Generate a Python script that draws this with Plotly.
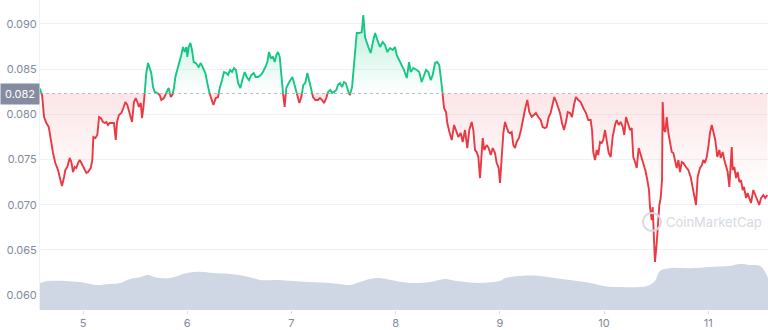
import plotly.graph_objects as go

# ---------------- data ----------------
day = [4.584, 4.607, 4.626, 4.648, 4.671, 4.690, 4.712, 4.734, 4.760, 4.776, 4.798, 4.818, 4.830, 4.849, 4.872,
       4.888, 4.904, 4.920, 4.936, 4.952, 4.968, 4.984, 5.010, 5.032, 5.048, 5.074, 5.089, 5.099, 5.118, 5.137,
       5.154, 5.170, 5.192, 5.208, 5.224, 5.240, 5.256, 5.272, 5.297, 5.314, 5.326, 5.345, 5.368, 5.387, 5.406,
       5.425, 5.448, 5.470, 5.489, 5.506, 5.521, 5.537, 5.554, 5.566, 5.579, 5.592, 5.607, 5.624,
       5.655, 5.672, 5.688, 5.713, 5.736, 5.751, 5.777, 5.799, 5.822, 5.842, 5.857, 5.873, 5.886, 5.905, 5.928,
       5.943, 5.960, 5.976, 5.991, 6.001, 6.014, 6.030, 6.046, 6.062, 6.082, 6.097, 6.110, 6.130, 6.152, 6.174,
       6.193, 6.209, 6.232, 6.251, 6.274, 6.296, 6.312, 6.334, 6.353, 6.375, 6.392, 6.411, 6.430, 6.449, 6.468,
       6.488, 6.510, 6.529, 6.552, 6.571, 6.593, 6.615, 6.638, 6.657, 6.679,
       6.705, 6.727, 6.750, 6.769, 6.785, 6.801, 6.823, 6.840, 6.855, 6.871, 6.888, 6.903, 6.919, 6.935, 6.951,
       6.974, 6.993, 7.009, 7.025, 7.041, 7.057, 7.076, 7.095, 7.114, 7.133, 7.153, 7.169, 7.185, 7.207, 7.229,
       7.255, 7.274, 7.294, 7.313, 7.335, 7.351, 7.373, 7.390, 7.409, 7.431, 7.447, 7.466, 7.486, 7.505, 7.521,
       7.543, 7.562, 7.582, 7.607, 7.627, 7.652, 7.675, 7.690, 7.706, 7.738, 7.761, 7.780, 7.803, 7.825, 7.850,
       7.876, 7.898, 7.920, 7.946, 7.972, 7.994, 8.011, 8.035, 8.059, 8.081, 8.107, 8.129, 8.145, 8.170, 8.203,
       8.227, 8.250, 8.272, 8.292, 8.314, 8.337, 8.356, 8.378, 8.400, 8.419, 8.442,
       8.465, 8.484, 8.496, 8.516, 8.539, 8.561, 8.580, 8.602, 8.625, 8.644, 8.666, 8.688, 8.707, 8.730, 8.746,
       8.762, 8.778, 8.794, 8.810, 8.826, 8.836, 8.851, 8.874, 8.893, 8.913, 8.932, 8.954, 8.970, 8.989, 9.002,
       9.021, 9.034, 9.050, 9.066, 9.082, 9.098, 9.114, 9.130, 9.146, 9.162, 9.184, 9.203, 9.226, 9.245, 9.264,
       9.283, 9.306, 9.328, 9.347, 9.369, 9.392, 9.412, 9.434, 9.450, 9.469, 9.488, 9.507, 9.523, 9.546, 9.561,
       9.578, 9.597, 9.616, 9.635, 9.652, 9.674, 9.693, 9.712, 9.731, 9.753, 9.776, 9.801, 9.827, 9.849,
       9.872, 9.885, 9.897, 9.914, 9.930, 9.945, 9.962, 9.978, 9.993, 10.010, 10.026, 10.045, 10.064, 10.083,
       10.106, 10.122, 10.141, 10.160, 10.180, 10.195, 10.211, 10.228, 10.250, 10.266, 10.281, 10.298, 10.314,
       10.333, 10.345, 10.365, 10.377, 10.396, 10.416, 10.432, 10.441, 10.458, 10.467, 10.480, 10.489, 10.506,
       10.515, 10.531, 10.544, 10.557, 10.563, 10.576, 10.589, 10.602, 10.618, 10.634, 10.650, 10.666, 10.682,
       10.698, 10.714, 10.730, 10.746, 10.761, 10.787, 10.809, 10.832, 10.851, 10.873, 10.883, 10.899, 10.921,
       10.940, 10.953, 10.969, 10.986, 11.001, 11.017, 11.034, 11.049, 11.068, 11.087, 11.107, 11.120, 11.139,
       11.155, 11.171, 11.187, 11.203, 11.216, 11.226, 11.235, 11.251, 11.267, 11.283, 11.299, 11.315, 11.331,
       11.344, 11.363, 11.379, 11.394, 11.411, 11.433, 11.452, 11.471, 11.490, 11.507, 11.529, 11.548, 11.567]

price = [0.08288, 0.08213, 0.07970, 0.07904, 0.07860, 0.07716, 0.07572, 0.07461, 0.07384, 0.07307, 0.07207,
         0.07307, 0.07384, 0.07417, 0.07517, 0.07472, 0.07362, 0.07417, 0.07406, 0.07461, 0.07494, 0.07461,
         0.07406, 0.07351, 0.07362, 0.07406, 0.07494, 0.07749, 0.07738, 0.07771, 0.07970, 0.07959, 0.07915,
         0.07904, 0.07915, 0.07882, 0.07904, 0.07904, 0.07904, 0.07716, 0.07915, 0.07992, 0.08014, 0.08070,
         0.08136, 0.08103, 0.07992, 0.07915, 0.08136, 0.08180, 0.08136, 0.08081, 0.08125, 0.07959, 0.08070,
         0.08236, 0.08457, 0.08567,
         0.08457, 0.08302, 0.08247, 0.08236, 0.08213, 0.08158, 0.08180, 0.08236, 0.08291, 0.08191, 0.08213,
         0.08291, 0.08413, 0.08490, 0.08567, 0.08655, 0.08744, 0.08689, 0.08744, 0.08634, 0.08744, 0.08789,
         0.08711, 0.08578, 0.08567, 0.08545, 0.08523, 0.08567, 0.08512, 0.08457, 0.08346, 0.08247, 0.08180,
         0.08103, 0.08180, 0.08191, 0.08291, 0.08379, 0.08468, 0.08457, 0.08435, 0.08490, 0.08468, 0.08512,
         0.08490, 0.08346, 0.08291, 0.08379, 0.08468, 0.08413, 0.08379, 0.08435, 0.08457, 0.08413, 0.08413,
         0.08435, 0.08468, 0.08523, 0.08578, 0.08689, 0.08623, 0.08634, 0.08578, 0.08655, 0.08689, 0.08634,
         0.08468, 0.08236, 0.08081, 0.08291, 0.08346, 0.08379, 0.08413, 0.08346, 0.08269, 0.08213, 0.08125,
         0.08191, 0.08324, 0.08346, 0.08457, 0.08379, 0.08302, 0.08191, 0.08158, 0.08158, 0.08180, 0.08158,
         0.08125, 0.08180, 0.08247, 0.08269, 0.08236, 0.08247, 0.08269, 0.08324, 0.08346, 0.08302, 0.08357,
         0.08346, 0.08247, 0.08213, 0.08302, 0.08634, 0.08899, 0.08899, 0.08910, 0.09098, 0.08855, 0.08744,
         0.08678, 0.08789, 0.08899, 0.08822, 0.08744, 0.08800, 0.08766, 0.08689, 0.08733, 0.08711, 0.08744,
         0.08655, 0.08601, 0.08545, 0.08490, 0.08401, 0.08578, 0.08468, 0.08512, 0.08490, 0.08468, 0.08357,
         0.08435, 0.08490, 0.08468, 0.08379, 0.08435, 0.08567, 0.08578, 0.08545, 0.08324,
         0.08070, 0.08025, 0.07904, 0.07804, 0.07716, 0.07882, 0.07826, 0.07749, 0.07793, 0.07694, 0.07826,
         0.07627, 0.07826, 0.07915, 0.07826, 0.07605, 0.07583, 0.07528, 0.07295, 0.07572, 0.07738, 0.07605,
         0.07660, 0.07627, 0.07550, 0.07627, 0.07572, 0.07461, 0.07406, 0.07240, 0.07572, 0.07793, 0.07915,
         0.07860, 0.07804, 0.07793, 0.07804, 0.07660, 0.07627, 0.07694, 0.07738, 0.07826, 0.07970, 0.08070,
         0.08158, 0.08025, 0.07970, 0.07992, 0.08014, 0.07970, 0.07937, 0.07860, 0.07848, 0.07860, 0.07970,
         0.08014, 0.08125, 0.08191, 0.08125, 0.08081, 0.08014, 0.07904, 0.07826, 0.07915, 0.08025, 0.08014,
         0.07970, 0.08103, 0.08191, 0.08158, 0.08136, 0.08070, 0.08014, 0.07937,
         0.07937, 0.07826, 0.07583, 0.07494, 0.07605, 0.07550, 0.07694, 0.07683, 0.07716, 0.07826, 0.07694,
         0.07572, 0.07528, 0.07749, 0.07882, 0.07937, 0.07882, 0.07915, 0.07860, 0.07771, 0.07970, 0.07915,
         0.07826, 0.07848, 0.07528, 0.07472, 0.07406, 0.07627, 0.07583, 0.07494, 0.07439, 0.07384, 0.07273,
         0.07163, 0.06975, 0.06831, 0.06975, 0.06643, 0.06367, 0.06577, 0.06754, 0.06997, 0.07074, 0.07273,
         0.08136, 0.07826, 0.07804, 0.07970, 0.07793, 0.07660, 0.07583, 0.07572, 0.07472, 0.07406, 0.07494,
         0.07362, 0.07472, 0.07461, 0.07417, 0.07384, 0.07307, 0.07196, 0.07074, 0.06997, 0.07307, 0.07406,
         0.07439, 0.07494, 0.07461, 0.07528, 0.07638, 0.07793, 0.07882, 0.07793, 0.07716, 0.07528, 0.07605,
         0.07517, 0.07583, 0.07494, 0.07417, 0.07362, 0.07196, 0.07461, 0.07638, 0.07384, 0.07417, 0.07295,
         0.07362, 0.07251, 0.07273, 0.07163, 0.07196, 0.07074, 0.07129, 0.07074, 0.07019, 0.07163, 0.07107,
         0.07052, 0.06997, 0.07074, 0.07107, 0.07074, 0.07107]

vol_day = [4.587, 4.683, 4.971, 5.115, 5.259, 5.355, 5.451, 5.547, 5.624, 5.691, 5.835, 5.998, 6.123, 6.248,
           6.411, 6.603, 6.699, 6.891, 6.987, 7.178, 7.370, 7.562, 7.630, 7.754, 7.850, 7.994, 8.138, 8.330,
           8.474, 8.570, 8.810, 9.002, 9.050, 9.194, 9.386, 9.530, 9.722, 9.866, 10.010, 10.154, 10.345,
           10.441, 10.489, 10.537, 10.633, 10.825, 11.017, 11.209, 11.305, 11.401, 11.497, 11.545, 11.574]
volume = [8.7, 9.4, 9.0, 8.1, 8.4, 8.7, 10.0, 10.6, 11.3, 10.6, 10.3, 11.9, 12.3, 11.9, 11.6, 10.6, 9.7, 9.7,
          9.4, 9.0, 8.7, 8.1, 8.7, 10.0, 10.3, 9.4, 8.7, 9.0, 10.0, 9.4, 8.7, 9.4, 10.3, 11.0, 11.0, 10.3, 9.4,
          8.7, 7.7, 7.4, 7.4, 8.1, 9.4, 12.6, 13.5, 13.5, 13.9, 14.2, 14.8, 14.5, 14.2, 12.3, 10.3]

open_price = 0.0823
open_label = "0.082"
y_ticks = [0.060, 0.065, 0.070, 0.075, 0.080, 0.085, 0.090]
x_ticks = [5, 6, 7, 8, 9, 10, 11]
x_labels = ["5", "6", "7", "8", "9", "10", "11"]

GREEN = "#16c784"
RED = "#ea3943"

# insert crossing points at the baseline
X, Y = [], []
for i in range(len(day)):
    if i > 0 and (price[i - 1] - open_price) * (price[i] - open_price) < 0:
        t = (open_price - price[i - 1]) / (price[i] - price[i - 1])
        X.append(day[i - 1] + t * (day[i] - day[i - 1]))
        Y.append(open_price)
    X.append(day[i])
    Y.append(price[i])

up_line = [y if y >= open_price else None for y in Y]
dn_line = [y if y <= open_price else None for y in Y]
up_fill = [max(y, open_price) for y in Y]
dn_fill = [min(y, open_price) for y in Y]
base = [open_price] * len(X)

fig = go.Figure()

# volume
fig.add_trace(go.Scatter(x=vol_day, y=volume, yaxis="y2", mode="lines", line=dict(width=0, shape="spline"),
                         fill="tozeroy", fillcolor="#cfd6e4", hoverinfo="skip", showlegend=False))

# fills
fig.add_trace(go.Scatter(x=X, y=base, mode="lines", line=dict(width=0), showlegend=False, hoverinfo="skip"))
fig.add_trace(go.Scatter(x=X, y=up_fill, mode="lines", line=dict(width=0), fill="tonexty",
                         fillgradient=dict(type="vertical", start=open_price, stop=0.0905,
                                           colorscale=[[0, "rgba(22,199,132,0)"], [1, "rgba(22,199,132,0.28)"]]),
                         showlegend=False, hoverinfo="skip"))
fig.add_trace(go.Scatter(x=X, y=base, mode="lines", line=dict(width=0), showlegend=False, hoverinfo="skip"))
fig.add_trace(go.Scatter(x=X, y=dn_fill, mode="lines", line=dict(width=0), fill="tonexty",
                         fillgradient=dict(type="vertical", start=0.0715, stop=open_price,
                                           colorscale=[[0, "rgba(234,57,67,0)"], [1, "rgba(234,57,67,0.13)"]]),
                         showlegend=False, hoverinfo="skip"))

# baseline
fig.add_trace(go.Scatter(x=[4.587, 11.574], y=[open_price, open_price], mode="lines",
                         line=dict(color="#b5bccb", width=1, dash="dot"), showlegend=False, hoverinfo="skip"))

# price lines
fig.add_trace(go.Scatter(x=X, y=dn_line, mode="lines", line=dict(color=RED, width=1.9),
                         connectgaps=False, showlegend=False))
fig.add_trace(go.Scatter(x=X, y=up_line, mode="lines", line=dict(color=GREEN, width=1.9),
                         connectgaps=False, showlegend=False))

fig.add_annotation(x=0, xref="paper", xanchor="right", y=open_price, yref="y", text=open_label,
                   showarrow=False, font=dict(family="Inter", size=11, color="white"),
                   bgcolor="#858ca0", borderpad=3, width=32)

# watermark
fig.add_annotation(x=11.06, y=0.0681, xref="x", yref="y", text="CoinMarketCap", showarrow=False,
                   font=dict(family="Inter", size=13, color="#d5dae3"))
fig.add_shape(type="circle", xref="x", yref="y", xsizemode="pixel", ysizemode="pixel",
              xanchor=10.46, yanchor=0.0681, x0=-9, x1=9, y0=-9, y1=9,
              line=dict(color="#d5dae3", width=2))

fig.update_layout(
    width=768, height=330,
    margin=dict(l=40, r=0, t=0, b=20),
    plot_bgcolor="white", paper_bgcolor="white",
    font=dict(family="Inter", size=11, color="#808a9d"),
    xaxis=dict(range=[4.587, 11.574], tickvals=x_ticks, ticktext=x_labels, showgrid=False,
               zeroline=False, ticks="outside", ticklen=3, tickcolor="#d5d9e2", showline=False),
    yaxis=dict(range=[0.05836, 0.09264], tickvals=y_ticks, tickformat=".3f", showgrid=True,
               gridcolor="#eff2f5", zeroline=False, showline=True, linecolor="#eff2f5", ticks=""),
    yaxis2=dict(range=[0, 100], overlaying="y", visible=False, showgrid=False),
    showlegend=False,
)

fig.write_html("out.html")
